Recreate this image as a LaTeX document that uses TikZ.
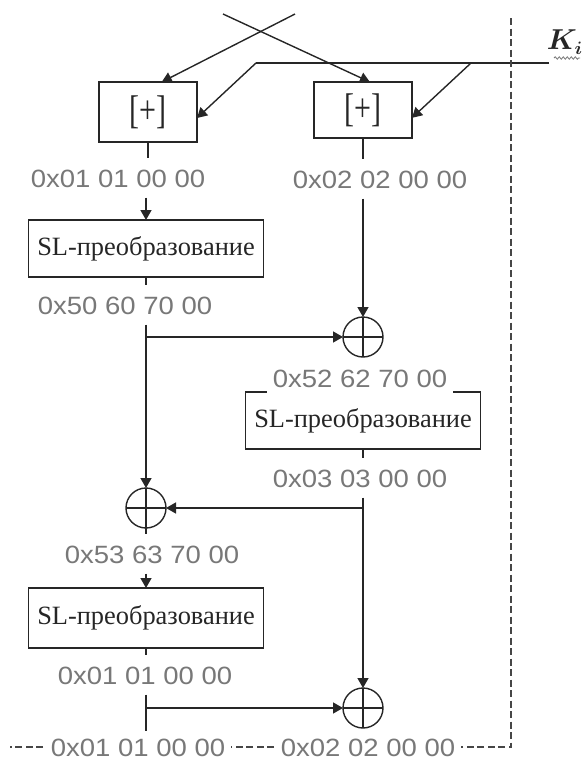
\documentclass[tikz,border=0pt]{standalone}
\usepackage{amsmath}
\usepackage{fontspec}
\setmainfont{Liberation Serif}
\newfontfamily\hexfont[FakeStretch=1.1]{Liberation Sans}
\newfontfamily\plusfont[FakeStretch=0.75]{Liberation Serif}
\usetikzlibrary{calc,arrows.meta,decorations.pathmorphing}
\definecolor{labgray}{RGB}{120,120,120}
\definecolor{dashgray}{RGB}{70,70,70}

\begin{document}
\begin{tikzpicture}[x=0.5pt,y=-0.5pt,line width=0.7pt,color=black!85]
\tikzstyle{arr}=[-{Triangle[length=5pt,width=5.5pt]}]

\tikzstyle{addbox}=[draw,outer sep=0pt,minimum width=49pt,minimum height=30pt,font=\plusfont\fontsize{20}{22}\selectfont]
\tikzstyle{slbox}=[draw,outer sep=0pt,minimum width=117.5pt,minimum height=28.5pt,font=\fontsize{13.2}{15}\selectfont]
\tikzstyle{xorcirc}=[draw,circle,outer sep=0pt,inner sep=0pt,minimum size=20pt,path picture={\draw (path picture bounding box.north) -- (path picture bounding box.south) (path picture bounding box.west) -- (path picture bounding box.east);}]
\tikzstyle{hexlab}=[text=labgray,inner xsep=3pt,inner ysep=5pt,text height=9pt,text depth=0pt,font=\hexfont\fontsize{12.5}{14}\selectfont]
\tikzstyle{frame}=[dashgray,dash pattern=on 3.5pt off 1.75pt]

\useasboundingbox (0,0) rectangle (585,762);

\node (add1) [addbox] at (148,112) {[+]};
\node (add2) [addbox,minimum height=28pt] at (363,110) {[+]};
\node (sl1) [slbox] at (146,248.5) {SL-преобразование};
\node (sl2) [slbox] at (363,420.5) {SL-преобразование};
\node (sl3) [slbox,minimum height=30pt] at (146,618) {SL-преобразование};
\node (x1) [xorcirc] at (363,337) {};
\node (x2) [xorcirc] at (146,508) {};
\node (x3) [xorcirc] at (363,708) {};

\node (v1) [hexlab] at (118,178) {0x01 01 00 00};
\node (v2) [hexlab] at (380,179) {0x02 02 00 00};
\node (v3) [hexlab] at (125,305) {0x50 60 70 00};
\node (v4) [hexlab,fill=white] at (360,378) {0x52 62 70 00};
\node (v5) [hexlab] at (360,478) {0x03 03 00 00};
\node (v6) [hexlab] at (152,554) {0x53 63 70 00};
\node (v7) [hexlab] at (145,675) {0x01 01 00 00};

\node (Ki) [font=\fontsize{13.5}{16}\selectfont] at (565,42) {$\boldsymbol{K_i}$};

\coordinate (inA) at (223,14);
\coordinate (inB) at (295,14);
\coordinate (kin) at (549,63);
\coordinate (kmid) at (471,63);
\coordinate (kend) at (256,63);
\coordinate (dtop) at (511,18);
\coordinate (dbot) at (511,747);
\coordinate (dleft) at (10,747);

\draw [arr] (inA) -- ($(add2.north west)!0.57!(add2.north east)$);
\draw [arr] (inB) -- ($(add1.north west)!0.64!(add1.north east)$);
\draw (kin) -- (kend);
\draw [arr] (kend) -- ($(add1.north east)!0.6!(add1.south east)$);
\draw [arr] (kmid) -- ($(add2.north east)!0.64!(add2.south east)$);
\draw [labgray,line width=0.4pt,decorate,decoration={snake,amplitude=0.6pt,segment length=2pt}] (554,58) -- (580,58);

\draw (add1.south) -- (add1.south |- v1.north);
\draw [arr] (v1.south -| sl1) -- (sl1);
\draw (sl1.south) -- (sl1.south |- v3.north);
\draw [arr] (v3.south -| x2) -- (x2);
\draw [arr] (x1 -| x2) -- (x1);

\draw (add2.south) -- (add2.south |- v2.north);
\draw [arr] (v2.south -| x1) -- (x1);
\draw (sl2.south) -- (sl2.south |- v5.north);
\draw [arr] (v5.south -| x3) -- (x3);
\draw [arr] (x2 -| x3) -- (x2);

\draw (x2.south) -- (x2.south |- v6.north);
\draw [arr] (v6.south -| sl3) -- (sl3);
\draw (sl3.south) -- (sl3.south |- v7.north);

\draw [frame] (dtop) -- (dbot) -- (dleft);
\node (bl) [hexlab,fill=white,inner ysep=3pt] at (138,747) {0x01 01 00 00};
\node (br) [hexlab,fill=white,inner ysep=3pt] at (368,747) {0x02 02 00 00};

\draw (v7.south -| sl3) -- (bl.north -| sl3);
\draw [arr] (x3 -| sl3) -- (x3);

\end{tikzpicture}
\end{document}
